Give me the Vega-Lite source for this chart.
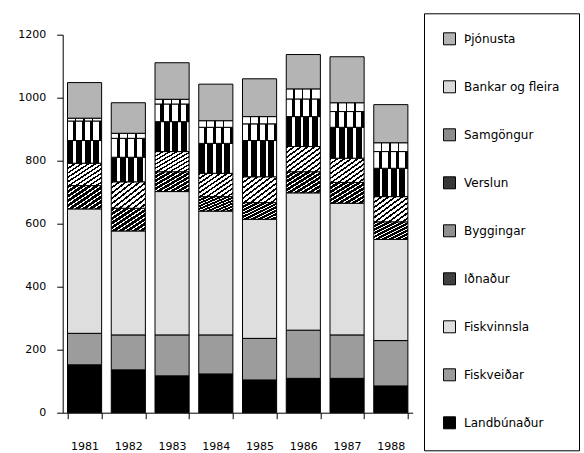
{
  "$schema": "https://vega.github.io/schema/vega-lite/v6.json",
  "width": 350,
  "height": 378,
  "autosize": {"type": "none"},
  "padding": {"left": 62.7, "top": 34.7, "right": 171.3, "bottom": 40.3},
  "background": "white",
  "data": {
    "values": [
      {"ar": "1981", "nr": 1, "grein": "Landbúnaður", "gildi": 152},
      {"ar": "1981", "nr": 2, "grein": "Fiskveiðar", "gildi": 100},
      {"ar": "1981", "nr": 3, "grein": "Fiskvinnsla", "gildi": 395},
      {"ar": "1981", "nr": 4, "grein": "Iðnaður", "gildi": 74},
      {"ar": "1981", "nr": 5, "grein": "Byggingar", "gildi": 71},
      {"ar": "1981", "nr": 6, "grein": "Verslun", "gildi": 72},
      {"ar": "1981", "nr": 7, "grein": "Samgöngur", "gildi": 62},
      {"ar": "1981", "nr": 8, "grein": "Bankar og fleira", "gildi": 9},
      {"ar": "1981", "nr": 9, "grein": "Þjónusta", "gildi": 113},
      {"ar": "1982", "nr": 1, "grein": "Landbúnaður", "gildi": 136},
      {"ar": "1982", "nr": 2, "grein": "Fiskveiðar", "gildi": 111},
      {"ar": "1982", "nr": 3, "grein": "Fiskvinnsla", "gildi": 330},
      {"ar": "1982", "nr": 4, "grein": "Iðnaður", "gildi": 72},
      {"ar": "1982", "nr": 5, "grein": "Byggingar", "gildi": 84},
      {"ar": "1982", "nr": 6, "grein": "Verslun", "gildi": 78},
      {"ar": "1982", "nr": 7, "grein": "Samgöngur", "gildi": 60},
      {"ar": "1982", "nr": 8, "grein": "Bankar og fleira", "gildi": 16},
      {"ar": "1982", "nr": 9, "grein": "Þjónusta", "gildi": 97},
      {"ar": "1983", "nr": 1, "grein": "Landbúnaður", "gildi": 117},
      {"ar": "1983", "nr": 2, "grein": "Fiskveiðar", "gildi": 130},
      {"ar": "1983", "nr": 3, "grein": "Fiskvinnsla", "gildi": 455},
      {"ar": "1983", "nr": 4, "grein": "Iðnaður", "gildi": 63},
      {"ar": "1983", "nr": 5, "grein": "Byggingar", "gildi": 64},
      {"ar": "1983", "nr": 6, "grein": "Verslun", "gildi": 95},
      {"ar": "1983", "nr": 7, "grein": "Samgöngur", "gildi": 56},
      {"ar": "1983", "nr": 8, "grein": "Bankar og fleira", "gildi": 15},
      {"ar": "1983", "nr": 9, "grein": "Þjónusta", "gildi": 116},
      {"ar": "1984", "nr": 1, "grein": "Landbúnaður", "gildi": 123},
      {"ar": "1984", "nr": 2, "grein": "Fiskveiðar", "gildi": 124},
      {"ar": "1984", "nr": 3, "grein": "Fiskvinnsla", "gildi": 393},
      {"ar": "1984", "nr": 4, "grein": "Iðnaður", "gildi": 46},
      {"ar": "1984", "nr": 5, "grein": "Byggingar", "gildi": 74},
      {"ar": "1984", "nr": 6, "grein": "Verslun", "gildi": 95},
      {"ar": "1984", "nr": 7, "grein": "Samgöngur", "gildi": 51},
      {"ar": "1984", "nr": 8, "grein": "Bankar og fleira", "gildi": 21},
      {"ar": "1984", "nr": 9, "grein": "Þjónusta", "gildi": 116},
      {"ar": "1985", "nr": 1, "grein": "Landbúnaður", "gildi": 104},
      {"ar": "1985", "nr": 2, "grein": "Fiskveiðar", "gildi": 132},
      {"ar": "1985", "nr": 3, "grein": "Fiskvinnsla", "gildi": 378},
      {"ar": "1985", "nr": 4, "grein": "Iðnaður", "gildi": 53},
      {"ar": "1985", "nr": 5, "grein": "Byggingar", "gildi": 82},
      {"ar": "1985", "nr": 6, "grein": "Verslun", "gildi": 115},
      {"ar": "1985", "nr": 7, "grein": "Samgöngur", "gildi": 53},
      {"ar": "1985", "nr": 8, "grein": "Bankar og fleira", "gildi": 23},
      {"ar": "1985", "nr": 9, "grein": "Þjónusta", "gildi": 120},
      {"ar": "1986", "nr": 1, "grein": "Landbúnaður", "gildi": 109},
      {"ar": "1986", "nr": 2, "grein": "Fiskveiðar", "gildi": 153},
      {"ar": "1986", "nr": 3, "grein": "Fiskvinnsla", "gildi": 436},
      {"ar": "1986", "nr": 4, "grein": "Iðnaður", "gildi": 67},
      {"ar": "1986", "nr": 5, "grein": "Byggingar", "gildi": 80},
      {"ar": "1986", "nr": 6, "grein": "Verslun", "gildi": 95},
      {"ar": "1986", "nr": 7, "grein": "Samgöngur", "gildi": 56},
      {"ar": "1986", "nr": 8, "grein": "Bankar og fleira", "gildi": 32},
      {"ar": "1986", "nr": 9, "grein": "Þjónusta", "gildi": 109},
      {"ar": "1987", "nr": 1, "grein": "Landbúnaður", "gildi": 109},
      {"ar": "1987", "nr": 2, "grein": "Fiskveiðar", "gildi": 138},
      {"ar": "1987", "nr": 3, "grein": "Fiskvinnsla", "gildi": 418},
      {"ar": "1987", "nr": 4, "grein": "Iðnaður", "gildi": 66},
      {"ar": "1987", "nr": 5, "grein": "Byggingar", "gildi": 77},
      {"ar": "1987", "nr": 6, "grein": "Verslun", "gildi": 98},
      {"ar": "1987", "nr": 7, "grein": "Samgöngur", "gildi": 50},
      {"ar": "1987", "nr": 8, "grein": "Bankar og fleira", "gildi": 28},
      {"ar": "1987", "nr": 9, "grein": "Þjónusta", "gildi": 146},
      {"ar": "1988", "nr": 1, "grein": "Landbúnaður", "gildi": 85},
      {"ar": "1988", "nr": 2, "grein": "Fiskveiðar", "gildi": 144},
      {"ar": "1988", "nr": 3, "grein": "Fiskvinnsla", "gildi": 321},
      {"ar": "1988", "nr": 4, "grein": "Iðnaður", "gildi": 56},
      {"ar": "1988", "nr": 5, "grein": "Byggingar", "gildi": 80},
      {"ar": "1988", "nr": 6, "grein": "Verslun", "gildi": 90},
      {"ar": "1988", "nr": 7, "grein": "Samgöngur", "gildi": 53},
      {"ar": "1988", "nr": 8, "grein": "Bankar og fleira", "gildi": 28},
      {"ar": "1988", "nr": 9, "grein": "Þjónusta", "gildi": 121}
    ]
  },
  "mark": {"type": "bar", "stroke": "black", "strokeWidth": 1},
  "encoding": {
    "x": {
      "field": "ar",
      "type": "ordinal",
      "scale": {"paddingInner": 0.22, "paddingOuter": 0.11},
      "axis": {"title": null, "labelAngle": 0, "tickBand": "extent", "tickSize": 6, "labelPadding": 22}
    },
    "y": {
      "field": "gildi",
      "type": "quantitative",
      "stack": "zero",
      "scale": {"domain": [0, 1200], "nice": false},
      "axis": {"title": null, "format": "d", "values": [0, 200, 400, 600, 800, 1000, 1200], "tickSize": 6, "labelPadding": 11, "grid": false}
    },
    "order": {"field": "nr", "type": "quantitative", "sort": "ascending"},
    "color": {
      "field": "grein",
      "type": "nominal",
      "sort": ["Þjónusta", "Bankar og fleira", "Samgöngur", "Verslun", "Byggingar", "Iðnaður", "Fiskvinnsla", "Fiskveiðar", "Landbúnaður"],
      "scale": {
        "domain": ["Þjónusta", "Bankar og fleira", "Samgöngur", "Verslun", "Byggingar", "Iðnaður", "Fiskvinnsla", "Fiskveiðar", "Landbúnaður"],
        "range": ["#b4b4b4", "#dadada", "#8c8c8c", "#383838", "#909090", "#404040", "#dedede", "#9c9c9c", "#000000"]
      },
      "condition": [
        {"test": "datum.grein === 'Iðnaður'", "value": {"gradient": "linear", "x1": 0, "y1": 0, "x2": 1, "y2": 1, "stops": [
            {"offset": 0, "color": "#000"}, {"offset": 0.07, "color": "#000"}, {"offset": 0.07, "color": "#fff"}, {"offset": 0.1, "color": "#fff"},
            {"offset": 0.1, "color": "#000"}, {"offset": 0.17, "color": "#000"}, {"offset": 0.17, "color": "#fff"}, {"offset": 0.2, "color": "#fff"},
            {"offset": 0.2, "color": "#000"}, {"offset": 0.27, "color": "#000"}, {"offset": 0.27, "color": "#fff"}, {"offset": 0.3, "color": "#fff"},
            {"offset": 0.3, "color": "#000"}, {"offset": 0.37, "color": "#000"}, {"offset": 0.37, "color": "#fff"}, {"offset": 0.4, "color": "#fff"},
            {"offset": 0.4, "color": "#000"}, {"offset": 0.47, "color": "#000"}, {"offset": 0.47, "color": "#fff"}, {"offset": 0.5, "color": "#fff"},
            {"offset": 0.5, "color": "#000"}, {"offset": 0.57, "color": "#000"}, {"offset": 0.57, "color": "#fff"}, {"offset": 0.6, "color": "#fff"},
            {"offset": 0.6, "color": "#000"}, {"offset": 0.67, "color": "#000"}, {"offset": 0.67, "color": "#fff"}, {"offset": 0.7, "color": "#fff"},
            {"offset": 0.7, "color": "#000"}, {"offset": 0.77, "color": "#000"}, {"offset": 0.77, "color": "#fff"}, {"offset": 0.8, "color": "#fff"},
            {"offset": 0.8, "color": "#000"}, {"offset": 0.87, "color": "#000"}, {"offset": 0.87, "color": "#fff"}, {"offset": 0.9, "color": "#fff"},
            {"offset": 0.9, "color": "#000"}, {"offset": 0.97, "color": "#000"}, {"offset": 0.97, "color": "#fff"}, {"offset": 1, "color": "#fff"}
          ]}},
        {"test": "datum.grein === 'Byggingar'", "value": {"gradient": "linear", "x1": 0, "y1": 0, "x2": 1, "y2": 1, "stops": [
            {"offset": 0, "color": "#000"}, {"offset": 0.04, "color": "#000"}, {"offset": 0.04, "color": "#fff"}, {"offset": 0.1, "color": "#fff"},
            {"offset": 0.1, "color": "#000"}, {"offset": 0.14, "color": "#000"}, {"offset": 0.14, "color": "#fff"}, {"offset": 0.2, "color": "#fff"},
            {"offset": 0.2, "color": "#000"}, {"offset": 0.24, "color": "#000"}, {"offset": 0.24, "color": "#fff"}, {"offset": 0.3, "color": "#fff"},
            {"offset": 0.3, "color": "#000"}, {"offset": 0.34, "color": "#000"}, {"offset": 0.34, "color": "#fff"}, {"offset": 0.4, "color": "#fff"},
            {"offset": 0.4, "color": "#000"}, {"offset": 0.44, "color": "#000"}, {"offset": 0.44, "color": "#fff"}, {"offset": 0.5, "color": "#fff"},
            {"offset": 0.5, "color": "#000"}, {"offset": 0.54, "color": "#000"}, {"offset": 0.54, "color": "#fff"}, {"offset": 0.6, "color": "#fff"},
            {"offset": 0.6, "color": "#000"}, {"offset": 0.64, "color": "#000"}, {"offset": 0.64, "color": "#fff"}, {"offset": 0.7, "color": "#fff"},
            {"offset": 0.7, "color": "#000"}, {"offset": 0.74, "color": "#000"}, {"offset": 0.74, "color": "#fff"}, {"offset": 0.8, "color": "#fff"},
            {"offset": 0.8, "color": "#000"}, {"offset": 0.84, "color": "#000"}, {"offset": 0.84, "color": "#fff"}, {"offset": 0.9, "color": "#fff"},
            {"offset": 0.9, "color": "#000"}, {"offset": 0.94, "color": "#000"}, {"offset": 0.94, "color": "#fff"}, {"offset": 1, "color": "#fff"}
          ]}},
        {"test": "datum.grein === 'Verslun'", "value": {"gradient": "linear", "x1": 0, "y1": 0, "x2": 1, "y2": 0, "stops": [
            {"offset": 0, "color": "#000"}, {"offset": 0.175, "color": "#000"}, {"offset": 0.175, "color": "#fff"}, {"offset": 0.25, "color": "#fff"},
            {"offset": 0.25, "color": "#000"}, {"offset": 0.425, "color": "#000"}, {"offset": 0.425, "color": "#fff"}, {"offset": 0.5, "color": "#fff"},
            {"offset": 0.5, "color": "#000"}, {"offset": 0.675, "color": "#000"}, {"offset": 0.675, "color": "#fff"}, {"offset": 0.75, "color": "#fff"},
            {"offset": 0.75, "color": "#000"}, {"offset": 0.925, "color": "#000"}, {"offset": 0.925, "color": "#fff"}, {"offset": 1, "color": "#fff"}
          ]}},
        {"test": "datum.grein === 'Samgöngur'", "value": {"gradient": "linear", "x1": 0, "y1": 0, "x2": 1, "y2": 0, "stops": [
            {"offset": 0, "color": "#fff"}, {"offset": 0.16, "color": "#fff"}, {"offset": 0.16, "color": "#000"}, {"offset": 0.25, "color": "#000"},
            {"offset": 0.25, "color": "#fff"}, {"offset": 0.41, "color": "#fff"}, {"offset": 0.41, "color": "#000"}, {"offset": 0.5, "color": "#000"},
            {"offset": 0.5, "color": "#fff"}, {"offset": 0.66, "color": "#fff"}, {"offset": 0.66, "color": "#000"}, {"offset": 0.75, "color": "#000"},
            {"offset": 0.75, "color": "#fff"}, {"offset": 0.91, "color": "#fff"}, {"offset": 0.91, "color": "#000"}, {"offset": 1, "color": "#000"}
          ]}},
        {"test": "datum.grein === 'Bankar og fleira'", "value": {"gradient": "linear", "x1": 0, "y1": 0, "x2": 1, "y2": 0, "stops": [
            {"offset": 0, "color": "#fff"}, {"offset": 0.21, "color": "#fff"}, {"offset": 0.21, "color": "#000"}, {"offset": 0.25, "color": "#000"},
            {"offset": 0.25, "color": "#fff"}, {"offset": 0.46, "color": "#fff"}, {"offset": 0.46, "color": "#000"}, {"offset": 0.5, "color": "#000"},
            {"offset": 0.5, "color": "#fff"}, {"offset": 0.71, "color": "#fff"}, {"offset": 0.71, "color": "#000"}, {"offset": 0.75, "color": "#000"},
            {"offset": 0.75, "color": "#fff"}, {"offset": 1, "color": "#fff"}
          ]}}
      ],
      "legend": {
        "title": null,
        "orient": "none",
        "legendX": 361.3,
        "legendY": -21.4,
        "padding": 19,
        "rowPadding": 31,
        "symbolType": "square",
        "symbolSize": 144,
        "symbolStrokeColor": "black",
        "symbolStrokeWidth": 1,
        "symbolOpacity": 1,
        "labelFontSize": 12,
        "labelFont": "DejaVu Sans",
        "labelColor": "black",
        "labelOffset": 8,
        "labelLimit": 300,
        "strokeColor": "black",
        "fillColor": "white"
      }
    }
  },
  "config": {
    "view": {"stroke": null},
    "axis": {
      "domainColor": "black",
      "tickColor": "black",
      "labelColor": "black",
      "labelFont": "DejaVu Sans",
      "labelFontSize": 11,
      "domainWidth": 1,
      "tickWidth": 1
    }
  }
}
